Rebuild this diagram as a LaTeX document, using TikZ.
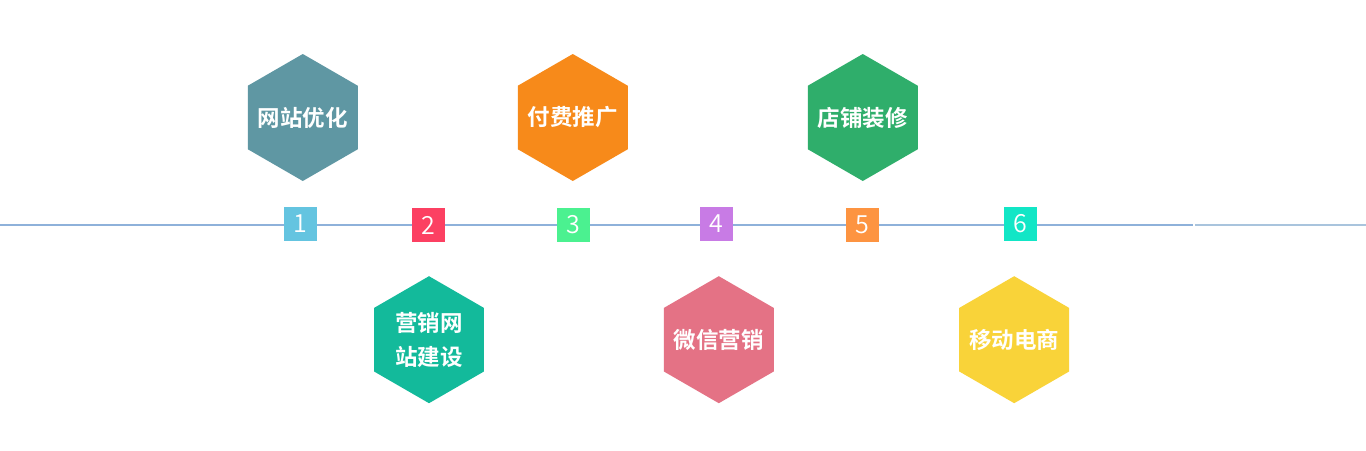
\documentclass[tikz,border=0pt]{standalone}
\usepackage{fontspec}
\setmainfont{Noto Sans CJK SC}
\newfontfamily\cjkb{Noto Sans CJK SC Bold}
\newfontfamily\numf{Noto Sans CJK SC DemiLight}
\usetikzlibrary{shapes.geometric}
\definecolor{hA}{HTML}{5F97A3}
\definecolor{hB}{HTML}{13BA9B}
\definecolor{hC}{HTML}{F78A1A}
\definecolor{hD}{HTML}{E47285}
\definecolor{hE}{HTML}{2FAE6B}
\definecolor{hF}{HTML}{F9D339}
\definecolor{sA}{HTML}{64C4E0}
\definecolor{sB}{HTML}{FC4062}
\definecolor{sC}{HTML}{4BF190}
\definecolor{sD}{HTML}{C87BE5}
\definecolor{sE}{HTML}{FD9441}
\definecolor{sF}{HTML}{12E6C6}
\definecolor{lineA}{HTML}{8EB1DA}
\definecolor{lineB}{HTML}{A9C4DD}
\tikzset{
  hexbox/.style={regular polygon, regular polygon sides=6, shape border rotate=30,
    minimum size=127pt, inner sep=0pt},
  hextext/.style={text=white, align=center, inner sep=0pt,
    font=\cjkb\fontsize{22.5pt}{34pt}\selectfont},
  numbox/.style={minimum width=33pt, minimum height=34pt, inner sep=0pt,
    text=white, font=\numf\fontsize{25pt}{25pt}\selectfont},
  axis/.style={line width=1.7pt}
}
\begin{document}
\begin{tikzpicture}[x=1pt,y=-1pt]
\useasboundingbox[fill=white] (0,0) rectangle (1366,450);
\coordinate (L) at (0,224.7);
\coordinate (M) at (1193,224.7);
\coordinate (N) at (1195,224.7);
\coordinate (R) at (1366,224.7);
\draw[axis,lineA] (L) -- (M);
\draw[axis,lineB] (N) -- (R);

\node[hexbox, fill=hA, label={[hextext]center:网站优化}] (h1) at (302.8,117.5) {};
\node[hexbox, fill=hB, label={[hextext]center:营销网\\站建设}] (h2) at (429,339.7) {};
\node[hexbox, fill=hC, label={[hextext]center:付费推广}] (h3) at (572.8,117.5) {};
\node[hexbox, fill=hD, label={[hextext]center:微信营销}] (h4) at (718.8,339.7) {};
\node[hexbox, fill=hE, label={[hextext]center:店铺装修}] (h5) at (862.8,117.5) {};
\node[hexbox, fill=hF, label={[hextext]center:移动电商}] (h6) at (1014.2,339.7) {};

\node[numbox, fill=sA] (s1) at (300,224) {1};
\node[numbox, fill=sB] (s2) at (428,225) {2};
\node[numbox, fill=sC] (s3) at (573.7,225) {3};
\node[numbox, fill=sD] (s4) at (716.7,224) {4};
\node[numbox, fill=sE] (s5) at (862,225) {5};
\node[numbox, fill=sF] (s6) at (1020,224) {6};
\end{tikzpicture}
\end{document}
